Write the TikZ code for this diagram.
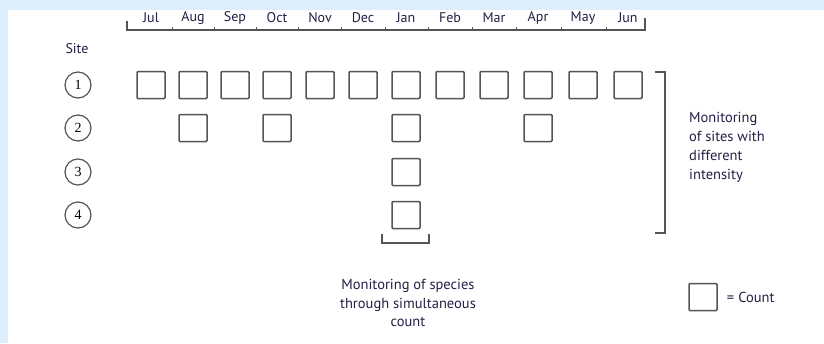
\documentclass[tikz,border=0pt]{standalone}
\usepackage{fontspec}
\setmainfont{PT Sans}
\newfontfamily\numfont{Liberation Serif}
\usetikzlibrary{positioning}
\definecolor{pagebg}{HTML}{DCEEFB}
\definecolor{linegray}{HTML}{555555}
\definecolor{labelblue}{HTML}{222046}

\begin{document}
\begin{tikzpicture}[x=1pt,y=-1pt,
  countbox/.style={draw=linegray,line width=1.5pt,rounded corners=1pt,
    minimum width=28pt,minimum height=27pt,inner sep=0pt},
  sitemark/.style={circle,draw=linegray,line width=1.2pt,minimum size=26pt,
    inner sep=0pt,font=\numfont\fontsize{14}{14}\selectfont},
  month/.style={inner sep=0pt,font=\fontsize{14}{16}\selectfont,text=labelblue},
  note/.style={inner sep=0pt,font=\fontsize{14.5}{19}\selectfont,text=labelblue},
  bracket/.style={draw=linegray,line width=1.3pt}]
  % page
  \fill[pagebg] (0,0) rectangle (824,343);
  \fill[white] (8,10) rectangle (824,343);
  \useasboundingbox (0,0) rectangle (824,343);

  % months and columns
  \foreach \x/\m [count=\i] in {151/Jul,193/Aug,235/Sep,277/Oct,320/Nov,363/Dec,
      406/Jan,450/Feb,494/Mar,538/Apr,583/May,628/Jun} {
    \coordinate (c\i) at (\x,0);
    \node[month] (m\i) at (\x,18) {\m};
  }
  \draw[bracket] (127,21) |- (645,30) -- (645,18);
  \foreach \t in {172,214,256,298,341,385,428,472,516,561,606}
    \draw[bracket,line width=1pt] (\t,30) -- (\t,27);

  % sites
  \node[month] (site) at (77,49) {Site};
  \foreach \n/\y in {1/85,2/128,3/172,4/215}
    \node[sitemark] (s\n) at (78,\y) {\n};

  % counts
  \foreach \i in {1,...,12}
    \node[countbox] (b1-\i) at (c\i |- s1) {};
  \foreach \i in {2,4,7,10}
    \node[countbox] (b2-\i) at (c\i |- s2) {};
  \node[countbox] (b3-7) at (c7 |- s3) {};
  \node[countbox] (b4-7) at (c7 |- s4) {};

  % brackets
  \draw[bracket] (655,72) -| (665,233) -- (655,233);
  \draw[bracket] (382,234) |- (429,243) -- (429,234);

  % notes
  \node[note,anchor=west,align=left] (sitenote) at (689,147)
    {Monitoring\\of sites with\\different\\intensity};
  \node[note,align=center,font=\fontsize{14.5}{18.5}\selectfont] (speciesnote) at (408,303)
    {Monitoring of species\\through simultaneous\\count};

  % legend
  \node[countbox] (key) at (703,297) {};
  \node[note,right=9pt of key] (keytext) {=\hspace{4pt}Count};
\end{tikzpicture}
\end{document}
